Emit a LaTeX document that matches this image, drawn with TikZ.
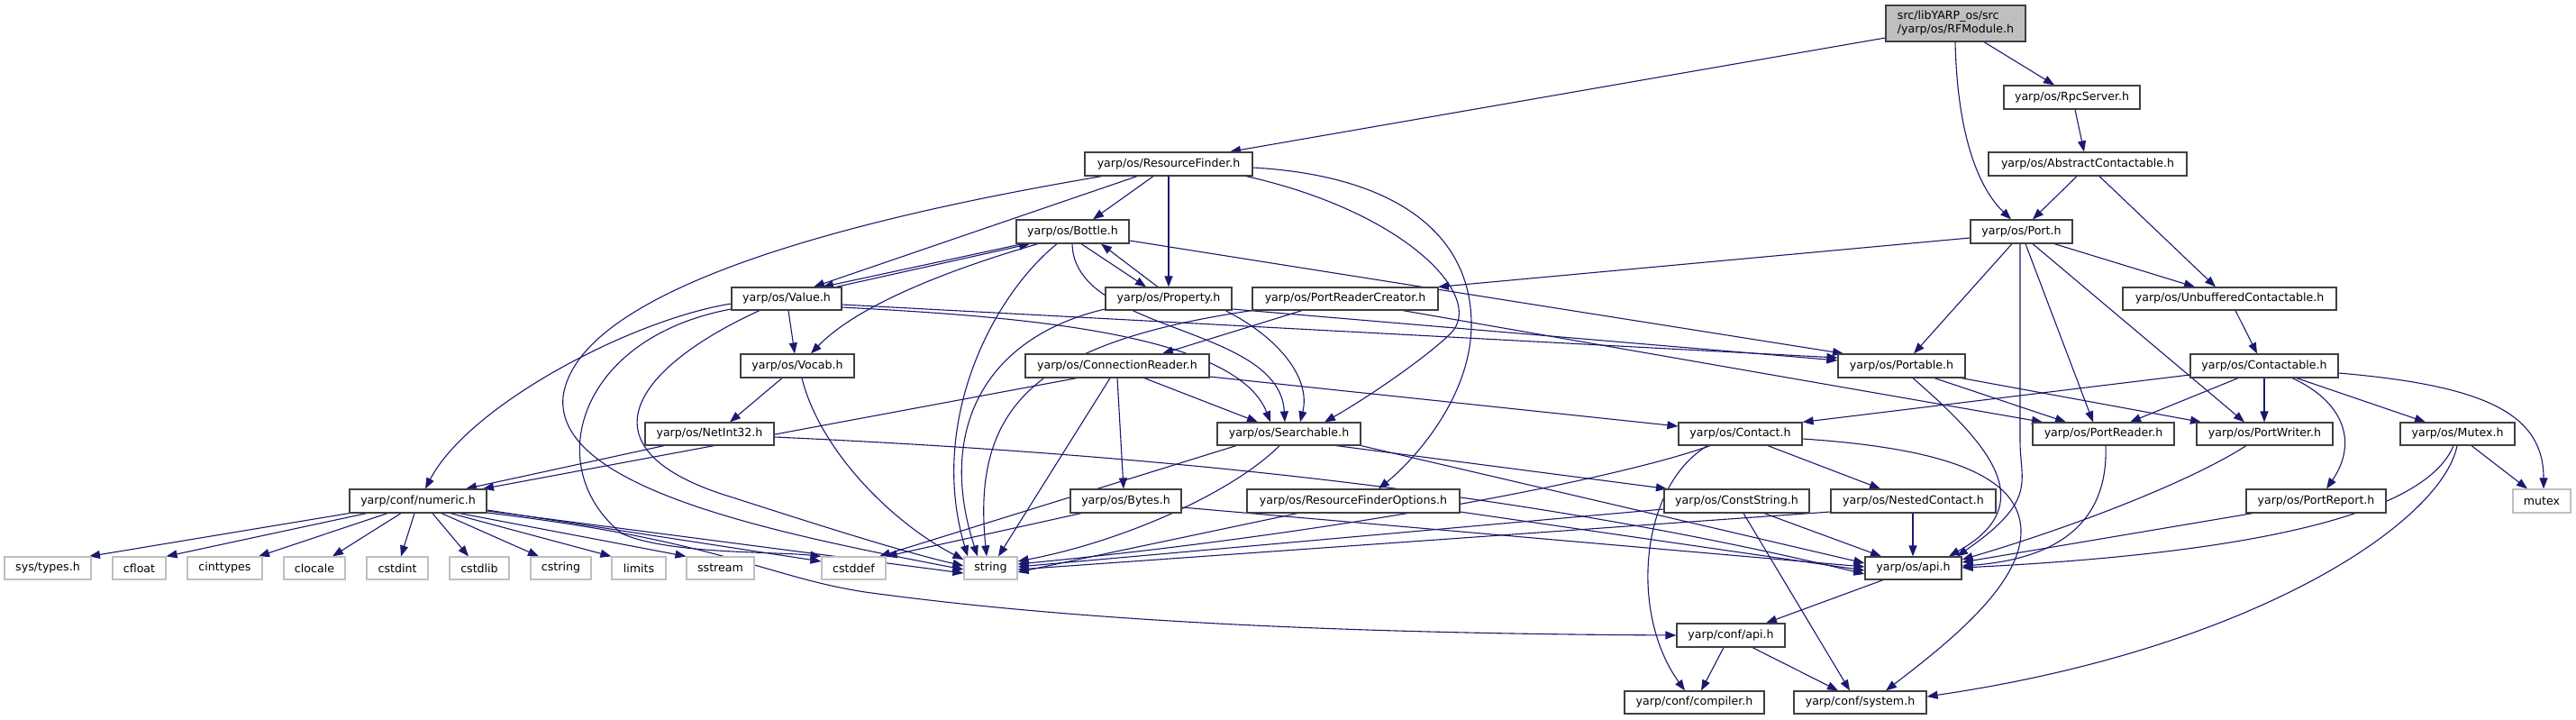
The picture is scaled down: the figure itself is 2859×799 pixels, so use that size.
\documentclass[tikz,border=0pt]{standalone}
\usepackage{fontspec}
\setmainfont{DejaVu Sans}
\usetikzlibrary{arrows.meta}
\pgfdeclarelayer{bg}
\pgfsetlayers{bg,main}
\definecolor{edgecol}{HTML}{191970}
\definecolor{boxcol}{HTML}{404040}
\definecolor{leafcol}{HTML}{BFBFBF}
\definecolor{rootfill}{HTML}{BFBFBF}
\newcommand\mkn[7]{\node[#1, minimum width={#4-#3}, minimum height={#6-#5}] (#2) at ({(#3+#4)/2},{(#5+#6)/2}) {#7};}
\begin{document}
\begin{tikzpicture}[x=1pt,y=-1pt,
  every node/.style={font=\fontsize{12.6}{15}\selectfont, inner sep=0pt},
  hdr/.style={draw=boxcol, line width=1.2pt, fill=white},
  leaf/.style={draw=leafcol, line width=1.2pt, fill=white},
  root/.style={draw=boxcol, line width=1.2pt, fill=rootfill, align=left},
  dep/.style={draw=edgecol, line width=1.1pt, -{Triangle[length=12pt,width=9pt]}},
]
\useasboundingbox (0,0) rectangle (2859,799);
% nodes
\mkn{root}{rfm}{2093}{2248}{6}{46}{src/libYARP\_os/src\\/yarp/os/RFModule.h}
\mkn{hdr}{rpc}{2224}{2375}{95}{121}{yarp/os/RpcServer.h}
\mkn{hdr}{abs}{2207}{2427}{169}{195}{yarp/os/AbstractContactable.h}
\mkn{hdr}{port}{2187}{2300}{244}{270}{yarp/os/Port.h}
\mkn{hdr}{rf}{1204}{1390}{169}{195}{yarp/os/ResourceFinder.h}
\mkn{hdr}{bottle}{1128}{1253}{244}{270}{yarp/os/Bottle.h}
\mkn{hdr}{prop}{1227}{1367}{319}{344}{yarp/os/Property.h}
\mkn{hdr}{value}{812}{934}{319}{344}{yarp/os/Value.h}
\mkn{hdr}{prc}{1390}{1596}{319}{344}{yarp/os/PortReaderCreator.h}
\mkn{hdr}{unbuf}{2356}{2593}{319}{344}{yarp/os/UnbufferedContactable.h}
\mkn{hdr}{vocab}{822}{948}{393}{419}{yarp/os/Vocab.h}
\mkn{hdr}{connr}{1138}{1342}{393}{419}{yarp/os/ConnectionReader.h}
\mkn{hdr}{portable}{2040}{2181}{393}{419}{yarp/os/Portable.h}
\mkn{hdr}{ctbl}{2431}{2595}{393}{419}{yarp/os/Contactable.h}
\mkn{hdr}{netint}{716}{859}{469}{494}{yarp/os/NetInt32.h}
\mkn{hdr}{search}{1351}{1510}{469}{494}{yarp/os/Searchable.h}
\mkn{hdr}{contact}{1863}{2000}{469}{494}{yarp/os/Contact.h}
\mkn{hdr}{preader}{2256}{2413}{469}{494}{yarp/os/PortReader.h}
\mkn{hdr}{pwriter}{2438}{2589}{469}{494}{yarp/os/PortWriter.h}
\mkn{hdr}{mutexh}{2664}{2791}{469}{494}{yarp/os/Mutex.h}
\mkn{hdr}{numeric}{388}{540}{543}{569}{yarp/conf/numeric.h}
\mkn{hdr}{bytes}{1188}{1311}{543}{569}{yarp/os/Bytes.h}
\mkn{hdr}{rfopt}{1384}{1620}{543}{569}{yarp/os/ResourceFinderOptions.h}
\mkn{hdr}{cstr}{1847}{2008}{543}{569}{yarp/os/ConstString.h}
\mkn{hdr}{nested}{2032}{2215}{543}{569}{yarp/os/NestedContact.h}
\mkn{hdr}{preport}{2493}{2648}{543}{569}{yarp/os/PortReport.h}
\mkn{leaf}{mutex}{2789}{2853}{543}{569}{mutex}
\mkn{leaf}{systypes}{5}{101}{618}{643}{sys/types.h}
\mkn{leaf}{cfloat}{125}{184}{618}{643}{cfloat}
\mkn{leaf}{cinttypes}{208}{291}{618}{643}{cinttypes}
\mkn{leaf}{clocale}{315}{383}{618}{643}{clocale}
\mkn{leaf}{cstdint}{407}{475}{618}{643}{cstdint}
\mkn{leaf}{cstdlib}{499}{565}{618}{643}{cstdlib}
\mkn{leaf}{cstring}{589}{656}{618}{643}{cstring}
\mkn{leaf}{limits}{679}{739}{618}{643}{limits}
\mkn{leaf}{sstream}{762}{837}{618}{643}{sstream}
\mkn{leaf}{cstddef}{912}{983}{618}{643}{cstddef}
\mkn{leaf}{string}{1070}{1129}{618}{643}{string}
\mkn{hdr}{osapi}{2070}{2177}{618}{643}{yarp/os/api.h}
\mkn{hdr}{confapi}{1861}{1981}{692}{718}{yarp/conf/api.h}
\mkn{hdr}{compiler}{1803}{1958}{767}{792}{yarp/conf/compiler.h}
\mkn{hdr}{system}{1991}{2138}{767}{792}{yarp/conf/system.h}
\begin{pgfonlayer}{bg}
\fill[white] (0,0) rectangle (2859,799);
% RFModule
\draw[dep] (rfm.west |- 0,42) -- (rf.north -| 1365,0);
\draw[dep] (rfm.south -| 2170,0) .. controls (2172,140) and (2192,205) .. (port.north -| 2232,0);
\draw[dep] (rfm.south -| 2202,0) -- (rpc.north -| 2280,0);
\draw[dep] (rpc.south -| 2303,0) -- (abs.north -| 2313,0);
\draw[dep] (abs.south -| 2305,0) -- (port.north -| 2256,0);
\draw[dep] (abs.south -| 2330,0) -- (unbuf.north -| 2459,0);
% Port
\draw[dep] (port.west |- 0,264) -- (prc.north -| 1596,0);
\draw[dep] (port.south -| 2280,0) -- (unbuf.north -| 2436,0);
\draw[dep] (port.south -| 2233,0) -- (portable.north -| 2124,0);
\draw[dep] (port.south -| 2242,0) -- (2242,490) .. controls (2242,535) and (2262,555) .. (osapi.north -| 2172,0);
\draw[dep] (port.south -| 2248,0) -- (preader.north -| 2323,0);
\draw[dep] (port.south -| 2256,0) -- (pwriter.north -| 2491,0);
% Unbuffered / Contactable
\draw[dep] (unbuf.south -| 2481,0) -- (ctbl.north -| 2505,0);
\draw[dep] (ctbl.west |- 0,416) -- (contact.north east);
\draw[dep] (ctbl.south -| 2484,0) -- (preader.north -| 2364,0);
\draw[dep] (ctbl.south -| 2513,0) -- (pwriter.north -| 2513,0);
\draw[dep] (ctbl.south -| 2544,0) .. controls (2600,445) and (2618,490) .. (preport.north -| 2582,0);
\draw[dep] (ctbl.south -| 2549,0) -- (mutexh.north -| 2692,0);
\draw[dep] (ctbl.east |- 0,414) .. controls (2760,428) and (2823,460) .. (mutex.north -| 2823,0);
% Mutex
\draw[dep] (mutexh.south -| 2743,0) -- (mutex.north -| 2805,0);
\draw[dep] (mutexh.south -| 2723,0) .. controls (2690,575) and (2480,615) .. (osapi.east |- 0,630);
\draw[dep] (mutexh.south -| 2727,0) .. controls (2710,580) and (2500,720) .. (system.east |- 0,773);
% Port readers/writers
\draw[dep] (preport.south -| 2500,0) -- (osapi.east |- 0,624);
\draw[dep] (pwriter.south -| 2493,0) .. controls (2430,535) and (2300,585) .. (osapi.east |- 0,621);
\draw[dep] (preader.south -| 2337,0) .. controls (2340,575) and (2290,620) .. (osapi.east |- 0,628);
% Portable
\draw[dep] (portable.south -| 2147,0) -- (preader.north -| 2293,0);
\draw[dep] (portable.south -| 2177,0) -- (pwriter.north -| 2443,0);
\draw[dep] (portable.south -| 2123,0) .. controls (2210,495) and (2265,560) .. (osapi.north -| 2163,0);
% Contact
\draw[dep] (contact.east |- 0,487) .. controls (2150,497) and (2243,525) .. (2243,590) .. controls (2243,650) and (2160,715) .. (system.north -| 2093,0);
\draw[dep] (contact.south -| 1962,0) -- (nested.north -| 2087,0);
\draw[dep] (contact.south -| 1898,0) .. controls (1800,530) and (1500,590) .. (string.east |- 0,626);
\draw[dep] (contact.south -| 1895,0) .. controls (1820,540) and (1808,680) .. (compiler.north -| 1870,0);
% ConstString, apis, nested
\draw[dep] (cstr.south -| 1935,0) -- (system.north -| 2053,0);
\draw[dep] (cstr.west |- 0,565) -- (string.east |- 0,629);
\draw[dep] (cstr.south -| 1958,0) -- (osapi.north -| 2088,0);
\draw[dep] (confapi.south -| 1913,0) -- (compiler.north -| 1888,0);
\draw[dep] (confapi.south -| 1945,0) -- (system.north -| 2040,0);
\draw[dep] (osapi.south -| 2090,0) -- (confapi.north -| 1960,0);
\draw[dep] (nested.south -| 2123,0) -- (osapi.north -| 2123,0);
\draw[dep] (nested.west |- 0,568) -- (string.east |- 0,632);
% Searchable
\draw[dep] (search.south east) -- (osapi.west |- 0,625);
\draw[dep] (search.south -| 1483,0) -- (cstr.north -| 1850,0);
\draw[dep] (search.south -| 1372,0) -- (cstddef.north -| 976,0);
\draw[dep] (search.south -| 1420,0) .. controls (1370,545) and (1250,600) .. (string.east |- 0,623);
% Bytes, RFOptions, NetInt32
\draw[dep] (bytes.south -| 1200,0) -- (cstddef.north east);
\draw[dep] (bytes.east |- 0,563) -- (osapi.west |- 0,629);
\draw[dep] (rfopt.east |- 0,568) -- (osapi.west |- 0,633);
\draw[dep] (rfopt.south -| 1440,0) -- (string.east |- 0,635);
\draw[dep] (netint.south -| 737,0) -- (numeric.north -| 517,0);
\draw[dep] (netint.east |- 0,485) .. controls (1300,505) and (1700,548) .. (osapi.west |- 0,637);
% ConnectionReader
\draw[dep] (connr.south -| 1195,0) -- (numeric.north -| 536,0);
\draw[dep] (connr.south -| 1232,0) -- (string.north -| 1108,0);
\draw[dep] (connr.south -| 1240,0) -- (bytes.north -| 1247,0);
\draw[dep] (connr.south -| 1270,0) -- (search.north -| 1396,0);
\draw[dep] (connr.east |- 0,418) -- (contact.west |- 0,473);
% PortReaderCreator
\draw[dep] (prc.south -| 1445,0) -- (connr.north -| 1290,0);
\draw[dep] (prc.south west) .. controls (1150,380) and (1078,450) .. (string.north -| 1095,0);
\draw[dep] (prc.south -| 1557,0) -- (preader.north -| 2267,0);
% Property
\draw[dep] (prop.north -| 1285,0) -- (bottle.south -| 1222,0);
\draw[dep] (prop.west |- 0,343) .. controls (1090,375) and (1040,480) .. (string.north -| 1085,0);
\draw[dep] (prop.south -| 1360,0) .. controls (1420,375) and (1455,420) .. (search.north -| 1443,0);
\draw[dep] (prop.east |- 0,343) -- (portable.west |- 0,400);
% Bottle
\draw[dep] (bottle.south -| 1200,0) -- (prop.north -| 1272,0);
\draw[dep] (bottle.south -| 1173,0) .. controls (1100,330) and (1030,470) .. (string.north -| 1074,0);
\draw[dep] (bottle.south -| 1190,0) .. controls (1192,370) and (1420,360) .. (search.north -| 1426,0);
\draw[dep] (bottle.east |- 0,267) -- (portable.north -| 2046,0);
\draw[dep] (bottle.south -| 1135,0) -- (value.north -| 913,0);
\draw[dep] (value.north -| 928,0) -- (bottle.south -| 1143,0);
\draw[dep] (bottle.south -| 1152,0) .. controls (1050,300) and (950,340) .. (vocab.north -| 900,0);
% Value
\draw[dep] (value.south -| 875,0) -- (vocab.north -| 882,0);
\draw[dep] (value.west |- 0,337) .. controls (700,355) and (520,450) .. (numeric.north -| 472,0);
\draw[dep] (value.west |- 0,343) .. controls (640,375) and (600,520) .. (690,592) .. controls (740,615) and (860,612) .. (cstddef.north west);
\draw[dep] (value.south -| 843,0) .. controls (700,410) and (640,500) .. (813,552) .. controls (900,580) and (1000,612) .. (string.west |- 0,628);
\draw[dep] (value.east |- 0,338) -- (portable.west |- 0,397);
\draw[dep] (value.east |- 0,341) .. controls (1100,350) and (1370,365) .. (search.north -| 1410,0);
% ResourceFinder
\draw[dep] (rf.south -| 1223,0) .. controls (900,250) and (640,330) .. (625,440) .. controls (615,540) and (850,590) .. (string.west |- 0,632);
\draw[dep] (rf.south -| 1262,0) -- (value.north -| 903,0);
\draw[dep] (rf.south -| 1280,0) -- (bottle.north -| 1213,0);
\draw[dep] (rf.south -| 1297,0) -- (prop.north -| 1297,0);
\draw[dep] (rf.east |- 0,186) .. controls (1550,195) and (1633,260) .. (1633,360) .. controls (1633,440) and (1570,510) .. (rfopt.north -| 1530,0);
\draw[dep] (rf.south -| 1383,0) .. controls (1560,235) and (1650,330) .. (1610,370) .. controls (1585,395) and (1520,440) .. (search.north -| 1470,0);
% Vocab
\draw[dep] (vocab.south -| 868,0) -- (netint.north -| 810,0);
\draw[dep] (vocab.south -| 890,0) .. controls (910,500) and (990,580) .. (string.west |- 0,621);
% numeric
\draw[dep] (numeric.south west) -- (systypes.north -| 99,0);
\draw[dep] (numeric.south -| 407,0) -- (cfloat.north east);
\draw[dep] (numeric.south -| 430,0) -- (cinttypes.north -| 287,0);
\draw[dep] (numeric.south -| 445,0) -- (clocale.north -| 369,0);
\draw[dep] (numeric.south -| 460,0) -- (cstdint.north -| 445,0);
\draw[dep] (numeric.south -| 480,0) -- (cstdlib.north -| 520,0);
\draw[dep] (numeric.south -| 490,0) -- (cstring.north -| 598,0);
\draw[dep] (numeric.south -| 500,0) -- (limits.north west);
\draw[dep] (numeric.south -| 510,0) -- (sstream.north west);
\draw[dep] (numeric.east |- 0,566) -- (cstddef.west |- 0,623);
\draw[dep] (numeric.east |- 0,567) -- (string.west |- 0,636);
\draw[dep] (numeric.east |- 0,569) .. controls (800,600) and (850,640) .. (960,657) .. controls (1200,690) and (1500,703) .. (confapi.west |- 0,705);
\end{pgfonlayer}
\end{tikzpicture}
\end{document}
